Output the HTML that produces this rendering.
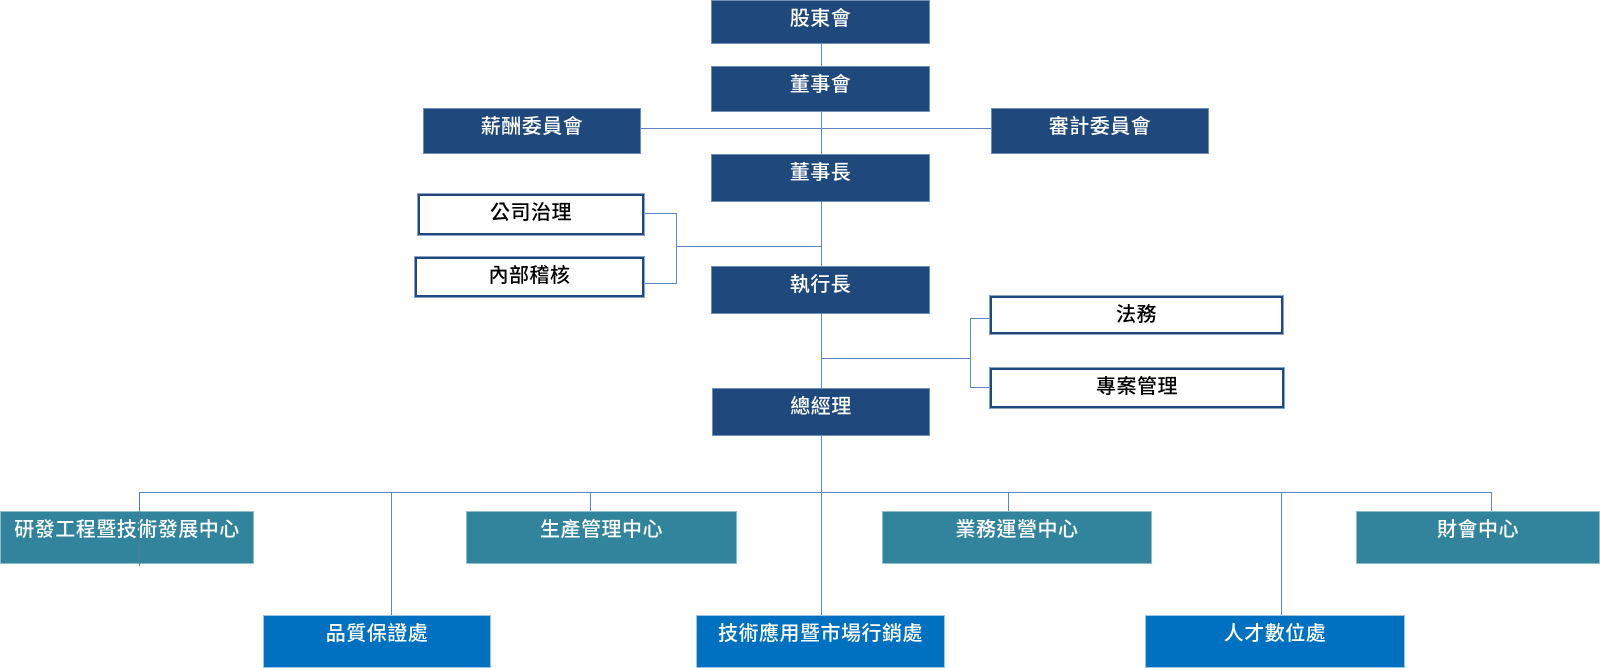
<!DOCTYPE html>
<html>
<head>
<meta charset="utf-8">
<style>
html,body{margin:0;padding:0;background:#fff;}
body{width:1600px;height:668px;position:relative;overflow:hidden;
font-family:"Liberation Sans","Noto Sans CJK TC","Noto Sans CJK SC",sans-serif;}
svg.lines{position:absolute;left:0;top:0;z-index:1;}
.b{position:absolute;box-sizing:border-box;text-align:center;font-size:20px;line-height:20px;letter-spacing:0.5px;white-space:nowrap;z-index:2;font-weight:500;}
.n{background:#1F497D;color:#fff;border:1px solid #6f8fba;padding-top:8px;}
.t{background:#31849B;color:#fff;border:1px solid #8dbccb;padding-top:8px;}
.u{background:#0070C0;color:#fff;border:1px solid #9cc6e8;padding-top:8px;}
.w{background:#fff;color:#000;border:2px solid #1F497D;box-shadow:0 0 0 1px #8aa4c8;padding-top:7px;}
svg.over{position:absolute;left:0;top:0;z-index:3;}
</style>
</head>
<body>
<svg class="lines" width="1600" height="668" xmlns="http://www.w3.org/2000/svg">
<g stroke="#5f86c2" stroke-width="1" fill="none" shape-rendering="crispEdges">
<line x1="821.5" y1="40" x2="821.5" y2="616"/>
<line x1="640" y1="128.5" x2="992" y2="128.5"/>
<polyline points="644,213.5 676.5,213.5 676.5,283.5 644,283.5"/>
<line x1="676" y1="246.5" x2="821" y2="246.5"/>
<line x1="821" y1="358.5" x2="970" y2="358.5"/>
<polyline points="991,318.5 970.5,318.5 970.5,387.5 991,387.5"/>
<line x1="139" y1="492.5" x2="1492" y2="492.5"/>
<line x1="391.5" y1="492" x2="391.5" y2="616"/>
<line x1="590.5" y1="492" x2="590.5" y2="512"/>
<line x1="1008.5" y1="492" x2="1008.5" y2="512"/>
<line x1="1281.5" y1="492" x2="1281.5" y2="616"/>
<line x1="1491.5" y1="492" x2="1491.5" y2="512"/>
</g>
</svg>

<div class="b n" style="left:711px;top:0px;width:219px;height:44px;">股東會</div>
<div class="b n" style="left:711px;top:66px;width:219px;height:46px;">董事會</div>
<div class="b n" style="left:423px;top:108px;width:218px;height:46px;">薪酬委員會</div>
<div class="b n" style="left:991px;top:108px;width:218px;height:46px;">審計委員會</div>
<div class="b n" style="left:711px;top:154px;width:219px;height:48px;">董事長</div>
<div class="b w" style="left:418px;top:194px;width:226px;height:41px;">公司治理</div>
<div class="b w" style="left:415px;top:257px;width:229px;height:40px;">內部稽核</div>
<div class="b n" style="left:711px;top:266px;width:219px;height:48px;">執行長</div>
<div class="b w" style="left:990px;top:296px;width:293px;height:38px;">法務</div>
<div class="b w" style="left:990px;top:368px;width:294px;height:40px;">專案管理</div>
<div class="b n" style="left:712px;top:388px;width:218px;height:48px;">總經理</div>

<div class="b t" style="left:0px;top:511px;width:254px;height:53px;">研發工程暨技術發展中心</div>
<div class="b t" style="left:466px;top:511px;width:271px;height:53px;">生產管理中心</div>
<div class="b t" style="left:882px;top:511px;width:270px;height:53px;">業務運營中心</div>
<div class="b t" style="left:1356px;top:511px;width:244px;height:53px;">財會中心</div>

<div class="b u" style="left:263px;top:615px;width:228px;height:53px;">品質保證處</div>
<div class="b u" style="left:696px;top:615px;width:249px;height:53px;">技術應用暨市場行銷處</div>
<div class="b u" style="left:1145px;top:615px;width:260px;height:53px;">人才數位處</div>

<svg class="over" width="1600" height="668" xmlns="http://www.w3.org/2000/svg">
<line x1="139.5" y1="492" x2="139.5" y2="566" stroke="#4d7f9a" stroke-width="1" shape-rendering="crispEdges"/>
</svg>
</body>
</html>
